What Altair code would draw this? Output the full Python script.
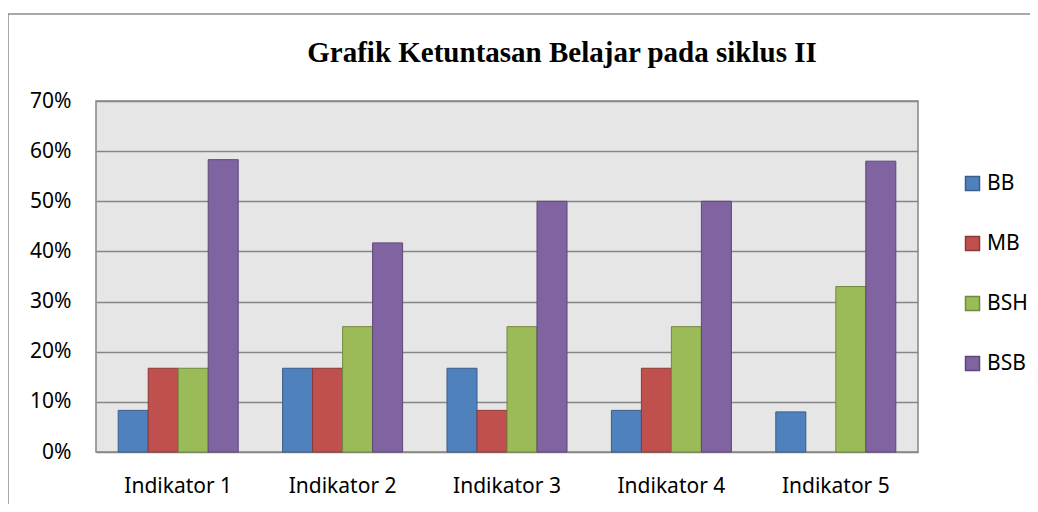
import altair as alt
import pandas as pd

categories = ["Indikator 1", "Indikator 2", "Indikator 3", "Indikator 4", "Indikator 5"]
series = ["BB", "MB", "BSH", "BSB"]
bb = [0.083, 0.167, 0.167, 0.083, 0.08]
mb = [0.167, 0.167, 0.083, 0.167, 0.0]
bsh = [0.167, 0.25, 0.25, 0.25, 0.33]
bsb = [0.583, 0.417, 0.50, 0.50, 0.58]
fills = ["#4F81BD", "#C0504D", "#9BBB59", "#8064A2"]
strokes = ["#385D8A", "#8C3836", "#71893F", "#5C4776"]
y_ticks = [0, 0.1, 0.2, 0.3, 0.4, 0.5, 0.6, 0.7]
title_text = "Grafik Ketuntasan Belajar pada siklus II"

rows = []
for s, vals in zip(series, [bb, mb, bsh, bsb]):
    for c, v in zip(categories, vals):
        rows.append({"Indikator": c, "Seri": s, "Nilai": v})
df = pd.DataFrame(rows)

FONT = "Noto Sans"
FS = 21

bars = alt.Chart(df).transform_filter("datum.Nilai > 0").mark_bar(strokeWidth=1).encode(
    x=alt.X("Indikator:N", sort=categories,
            scale=alt.Scale(domain=categories, paddingInner=0.27, paddingOuter=0.135),
            axis=alt.Axis(title=None, labelAngle=0, ticks=False, domain=False,
                          labelPadding=23, labelFont=FONT, labelFontSize=FS,
                          labelColor="#000000")),
    xOffset=alt.XOffset("Seri:N", sort=series,
                        scale=alt.Scale(domain=series, paddingInner=0, paddingOuter=0)),
    y=alt.Y("Nilai:Q", scale=alt.Scale(domain=[0, 0.7], nice=False),
            axis=alt.Axis(title=None, values=y_ticks, format=".0%", ticks=False,
                          domain=False, labelPadding=25, labelFont=FONT,
                          labelFontSize=FS, labelColor="#000000",
                          gridColor="#868686", gridWidth=1.5)),
    color=alt.Color("Seri:N", sort=series,
                    scale=alt.Scale(domain=series, range=fills),
                    legend=alt.Legend(title=None)),
    stroke=alt.Stroke("Seri:N", sort=series,
                      scale=alt.Scale(domain=series, range=strokes),
                      legend=alt.Legend(title=None)),
)

deco = alt.Chart(pd.DataFrame({"t": [title_text]}))

frame = deco.mark_rect(
    fill=None, stroke="#8c8c8c", strokeWidth=1.5
).encode(
    x=alt.value(-88), x2=alt.value(1000), y=alt.value(-87), y2=alt.value(500)
)

title = deco.mark_text(
    font="Liberation Serif", fontSize=29, fontWeight="bold", color="#000000",
    align="center", baseline="alphabetic"
).encode(
    text="t:N", x=alt.value(466), y=alt.value(-39)
)

chart = alt.layer(bars, frame, title).properties(
    width=822,
    height=351,
    padding={"left": 88, "top": 93, "right": 112, "bottom": 52},
    autosize=alt.AutoSizeParams(type="none"),
).configure_view(
    fill="#e6e6e6", stroke="#868686", strokeWidth=1.5
).configure_legend(
    orient="none", legendX=866, legendY=72, symbolType="square", symbolSize=196,
    symbolStrokeWidth=1.5, labelFont=FONT, labelFontSize=FS, labelColor="#000000",
    rowPadding=38, labelOffset=4, labelLimit=200
)

chart.save("out.html", embed_options={"renderer": "svg", "actions": False})
